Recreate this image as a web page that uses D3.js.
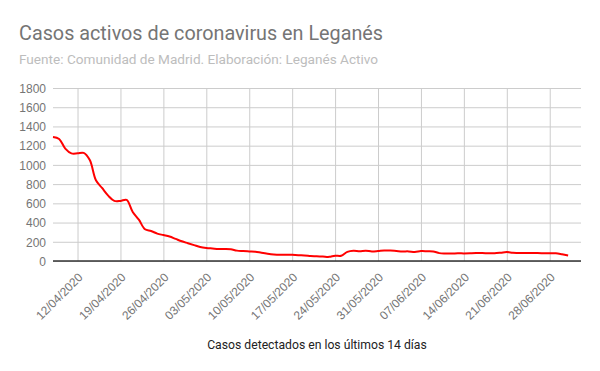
<!DOCTYPE html>
<html>
<head>
<meta charset="utf-8">
<script src="https://cdn.jsdelivr.net/npm/d3@7"></script>
<style>
  html, body { margin: 0; padding: 0; background: #fff; }
  svg { display: block; font-family: Roboto, "Noto Sans", sans-serif; }
  .grid line { stroke: #cccccc; stroke-width: 1; }
  .grid .domain { display: none; }
  .axis .domain { display: none; }
  .axis .tick line { display: none; }
  .axis text { fill: #757575; font-size: 12px; }
</style>
</head>
<body>
<div id="chart"></div>
<script>
// Active coronavirus cases in Leganés, one value per day from 08/04/2020
const startDate = "2020-04-08";
const activeCases = [
  1290, 1270, 1170, 1120, 1120, 1125, 1050, 840, 760, 680,
  625, 625, 635, 510, 430, 330, 312, 285, 270, 255,
  230, 205, 185, 165, 145, 135, 130, 125, 125, 122,
  108, 104, 100, 97, 85, 75, 68, 65, 66, 64,
  60, 58, 53, 49, 47, 43, 55, 55, 95, 107,
  102, 107, 100, 104, 110, 108, 104, 100, 100, 94,
  103, 102, 100, 82, 78, 77, 80, 79, 80, 82,
  83, 80, 80, 86, 94, 85, 84, 83, 84, 82,
  81, 80, 80, 70, 58
];
const tickDates = [
  "2020-04-12", "2020-04-19", "2020-04-26", "2020-05-03", "2020-05-10", "2020-05-17",
  "2020-05-24", "2020-05-31", "2020-06-07", "2020-06-14", "2020-06-21", "2020-06-28"
];
const yTicks = [0, 200, 400, 600, 800, 1000, 1200, 1400, 1600, 1800];

const titleText = "Casos activos de coronavirus en Leganés";
const subtitleText = "Fuente: Comunidad de Madrid. Elaboración: Leganés Activo";
const xTitleText = "Casos detectados en los últimos 14 días";

const parse = d3.utcParse("%Y-%m-%d");
const fmt = d3.utcFormat("%d/%m/%Y");
const day0 = parse(startDate);
const data = activeCases.map((v, i) => ({ date: d3.utcDay.offset(day0, i), value: v }));

const width = 600, height = 371;
const margin = { top: 88, right: 19, bottom: 110, left: 53 };
const innerWidth = width - margin.left - margin.right;
const innerHeight = height - margin.top - margin.bottom;

const svg = d3.select("#chart").append("svg")
  .attr("width", width).attr("height", height);

svg.append("text").attr("x", 19).attr("y", 39.5)
  .attr("font-size", 19.8).attr("fill", "#757575").text(titleText);
svg.append("text").attr("x", 19).attr("y", 64)
  .attr("font-size", 13.6).attr("fill", "#bdbdbd").text(subtitleText);

const plot = svg.append("g").attr("transform", `translate(${margin.left},${margin.top})`);

const lastDate = data[data.length - 1].date;
const x = d3.scaleUtc()
  .domain([day0, new Date(+lastDate + 2.1 * 864e5)])
  .range([0, innerWidth]);
const y = d3.scaleLinear().domain([0, 1800]).range([innerHeight, 0]);
const ticks = tickDates.map(parse);

plot.append("g").attr("class", "grid")
  .call(d3.axisLeft(y).tickValues(yTicks).tickSize(-innerWidth).tickFormat(""));
plot.append("g").attr("class", "grid")
  .attr("transform", `translate(0,${innerHeight})`)
  .call(d3.axisBottom(x).tickValues(ticks).tickSize(-innerHeight).tickFormat(""));

plot.append("g").attr("class", "axis")
  .call(d3.axisLeft(y).tickValues(yTicks).tickSize(0).tickPadding(7).tickFormat(d3.format("d")))
  .selectAll("text").attr("dy", "0.36em");

const xAxisG = plot.append("g").attr("class", "axis")
  .attr("transform", `translate(0,${innerHeight})`)
  .call(d3.axisBottom(x).tickValues(ticks).tickSize(0).tickFormat(fmt));
xAxisG.selectAll("text")
  .attr("text-anchor", "end")
  .attr("dx", 0).attr("dy", 0).attr("y", 0)
  .attr("transform", "translate(5.5,17) rotate(-45)");

plot.append("line")
  .attr("x1", 0).attr("x2", innerWidth)
  .attr("y1", innerHeight).attr("y2", innerHeight)
  .attr("stroke", "#333").attr("stroke-width", 1.5);

const line = d3.line()
  .x(d => x(d.date))
  .y(d => y(d.value))
  .curve(d3.curveCatmullRom.alpha(0.5));

plot.append("path").datum(data)
  .attr("fill", "none").attr("stroke", "#ff0000")
  .attr("stroke-width", 2).attr("stroke-linejoin", "round")
  .attr("d", line);

svg.append("text")
  .attr("x", margin.left + innerWidth / 2).attr("y", 349)
  .attr("text-anchor", "middle").attr("font-size", 12.2).attr("fill", "#222")
  .text(xTitleText);
</script>
</body>
</html>
